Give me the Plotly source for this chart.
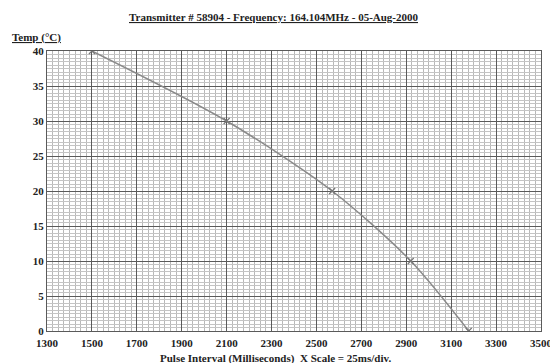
import plotly.graph_objects as go

pulse_ms = [1500, 2100, 2570, 2920, 3178]
temp_c = [40, 30, 20, 10, 0]

title_text = "Transmitter # 58904 - Frequency: 164.104MHz - 05-Aug-2000"
y_title = "Temp (°C)"
x_title = "Pulse Interval (Milliseconds)  X Scale = 25ms/div."

FONT = "Liberation Serif"

fig = go.Figure()
fig.add_trace(go.Scatter(
    x=pulse_ms, y=temp_c, mode="lines+markers",
    line=dict(color="#8a8a8a", width=1.5, shape="spline", smoothing=0.8),
    marker=dict(symbol="x-thin", size=6, line=dict(color="#777777", width=1.2), color="#777777"),
    showlegend=False, hoverinfo="x+y",
))

fig.update_layout(
    width=550, height=355,
    margin=dict(l=39, r=5, t=43, b=32),
    paper_bgcolor="white", plot_bgcolor="white",
    font=dict(family=FONT, color="#222222", size=11),
    xaxis=dict(
        range=[1300, 3500], tick0=1300, dtick=200,
        showgrid=True, gridcolor="#5a5a5a", gridwidth=1,
        minor=dict(tick0=1300, dtick=25, showgrid=True, gridcolor="#b8b8b8", gridwidth=1),
        showline=True, linecolor="#5a5a5a", linewidth=1, mirror=True,
        zeroline=False, ticks="", ticklabelstandoff=2,
        tickfont=dict(family=FONT, size=11, color="#222222", weight="bold"),
        ticklabeloverflow="allow",
    ),
    yaxis=dict(
        range=[0, 40], tick0=0, dtick=5,
        showgrid=True, gridcolor="#5a5a5a", gridwidth=1,
        minor=dict(tick0=0, dtick=0.5, showgrid=True, gridcolor="#c4c4c4", gridwidth=1),
        showline=True, linecolor="#5a5a5a", linewidth=1, mirror=True,
        zeroline=False, ticks="",
        tickfont=dict(family=FONT, size=11, color="#222222", weight="bold"),
    ),
    annotations=[
        dict(text="<b><u>" + title_text + "</u></b>", xref="paper", yref="paper",
             x=0.46, y=1.0, yshift=34, xanchor="center", yanchor="middle",
             showarrow=False, font=dict(family=FONT, size=11, color="#222222")),
        dict(text="<b><u>" + y_title + "</u></b>", xref="paper", yref="paper",
             x=0, xshift=-37, y=1.0, yshift=14, xanchor="left", yanchor="middle",
             showarrow=False, font=dict(family=FONT, size=11, color="#222222")),
        dict(text="<b><u>" + x_title + "</u></b>", xref="paper", yref="paper",
             x=0.462, y=0, yshift=-27, xanchor="center", yanchor="middle",
             showarrow=False, font=dict(family=FONT, size=11, color="#222222")),
    ],
)

fig.write_html("out.html")
